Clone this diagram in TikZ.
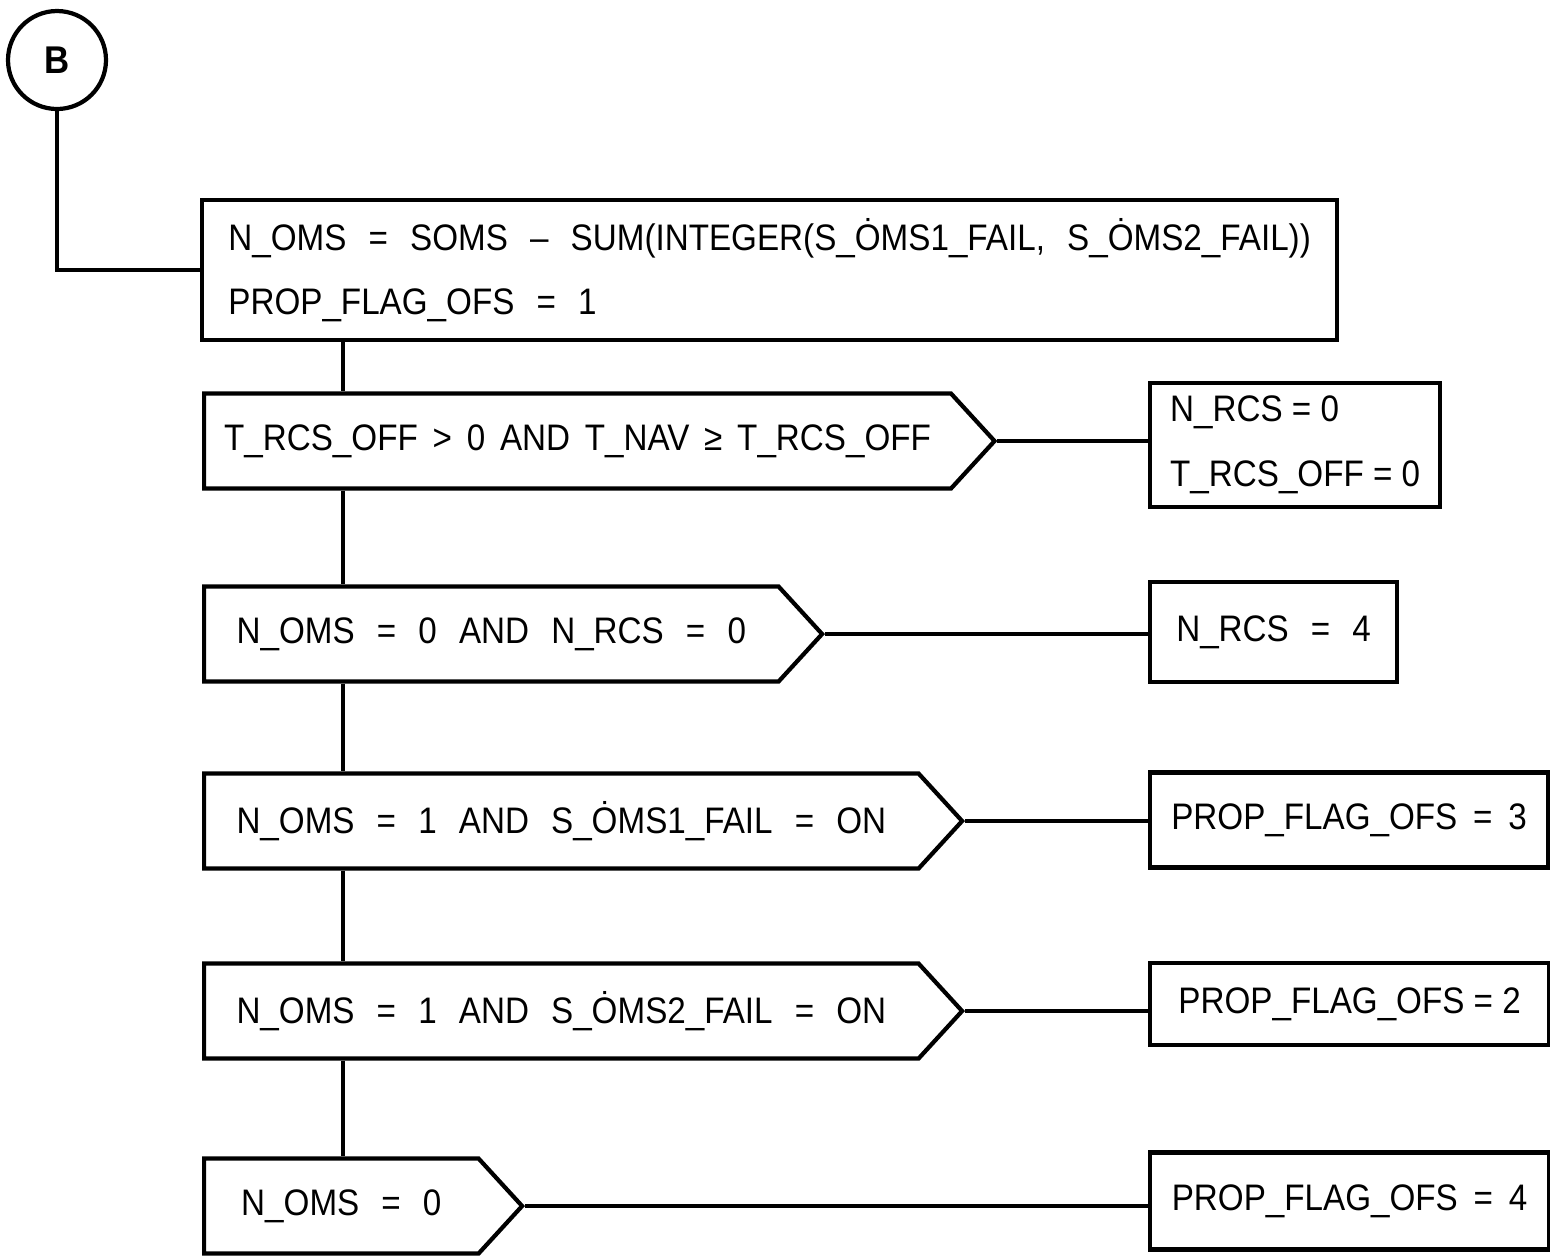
\documentclass[tikz,border=0pt]{standalone}
\usepackage{fontspec}
\setmainfont{Liberation Sans}[FakeStretch=0.9]
\usetikzlibrary{shapes.symbols, positioning}

\begin{document}
\begin{tikzpicture}[
  x=0.1mm, y=-0.1mm,
  conn/.style={circle, draw, line width=1.2pt, minimum size=9.8mm, inner sep=0pt, font={\fontsize{11}{13}\selectfont\bfseries}},
  box/.style={rectangle, draw, line width=1.2pt, anchor=west, align=left, inner xsep=2mm, font={\fontsize{10.5}{18.4}\selectfont}},
  midbox/.style={box, font={\fontsize{10.5}{18.4}\selectfont\spaceskip=0.43em\relax}},
  widebox/.style={box, font={\fontsize{10.5}{18.4}\selectfont\spaceskip=0.6em\relax}},
  test/.style={signal, signal to=east, signal pointer angle=95, draw, line width=1.2pt, anchor=west, inner xsep=2mm, minimum height=9.5mm, font={\fontsize{10.5}{12}\selectfont\spaceskip=0.4em\relax}},
  widetest/.style={test, font={\fontsize{10.5}{12}\selectfont\spaceskip=0.6em\relax}},
  link/.style={line width=1.2pt},
]
\useasboundingbox (0,0) rectangle (1550,1259);

\node[conn] (b) at (57,60) {B};
\node[widebox, minimum width=113.5mm, minimum height=14mm] (init) at (200,270)
  {N\_OMS = SOMS -- SUM(INTEGER(S\_\.{O}MS1\_FAIL, S\_\.{O}MS2\_FAIL))\\PROP\_FLAG\_OFS = 1};

% tests on the left
\node[test, minimum width=78.8mm]     (t1) at (202,441) {T\_RCS\_OFF > 0 AND T\_NAV ≥ T\_RCS\_OFF};
\node[widetest, minimum width=61.8mm] (t2) at (202,634) {N\_OMS = 0 AND N\_RCS = 0};
\node[widetest, minimum width=75.8mm] (t3) at (202,821) {N\_OMS = 1 AND S\_\.{O}MS1\_FAIL = ON};
\node[widetest, minimum width=75.8mm] (t4) at (202,1011) {N\_OMS = 1 AND S\_\.{O}MS2\_FAIL = ON};
\node[widetest, minimum width=31.8mm] (t5) at (202,1206) {N\_OMS = 0};

% actions on the right
\node[box, minimum width=29mm, minimum height=12.4mm]       (r1) at (1148,445) {N\_RCS = 0\\T\_RCS\_OFF = 0};
\node[widebox, minimum width=24.7mm, minimum height=10mm]   (r2) at (1148,632) {N\_RCS = 4};
\node[midbox, minimum width=39.8mm, minimum height=9.5mm]   (r3) at (1148,820) {PROP\_FLAG\_OFS = 3};
\node[box, minimum width=39.9mm, minimum height=8.2mm]      (r4) at (1148,1004) {PROP\_FLAG\_OFS = 2};
\node[midbox, minimum width=39.9mm, minimum height=9.7mm]   (r5) at (1148,1201) {PROP\_FLAG\_OFS = 4};

\coordinate (trunk) at (343,0);
\draw[link] (b.south) |- (init.west);
\draw[link] (init.south -| trunk) -- (t1.north -| trunk);
\draw[link] (t1.south -| trunk) -- (t2.north -| trunk);
\draw[link] (t2.south -| trunk) -- (t3.north -| trunk);
\draw[link] (t3.south -| trunk) -- (t4.north -| trunk);
\draw[link] (t4.south -| trunk) -- (t5.north -| trunk);

\draw[link] (t1.east) -- (t1.east -| r1.west);
\draw[link] (t2.east) -- (t2.east -| r2.west);
\draw[link] (t3.east) -- (t3.east -| r3.west);
\draw[link] (t4.east) -- (t4.east -| r4.west);
\draw[link] (t5.east) -- (t5.east -| r5.west);
\end{tikzpicture}
\end{document}
